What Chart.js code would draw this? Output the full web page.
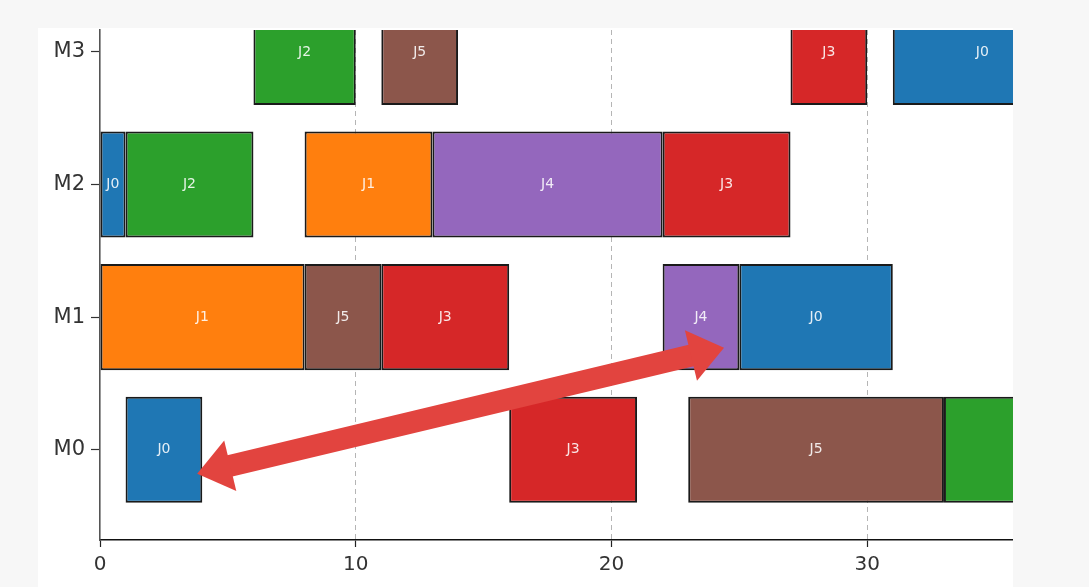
<!DOCTYPE html>
<html>
<head>
<meta charset="utf-8">
<script src="https://cdn.jsdelivr.net/npm/chart.js@4.4.0/dist/chart.umd.min.js"></script>
<style>
  html, body { margin: 0; padding: 0; background: #f7f7f7; }
  #wrap { position: absolute; left: 38px; top: 28px; width: 975px; height: 559px; background: #fff; }
</style>
</head>
<body>
<div id="wrap"><canvas id="gantt"></canvas></div>
<script>
// machines on the y axis, jobs as coloured bars
const machines = ['M0', 'M1', 'M2', 'M3'];
const jobs = ['J0', 'J1', 'J2', 'J3', 'J4', 'J5'];
const jobColors = ['#1f77b4', '#ff7f0e', '#2ca02c', '#d62728', '#9467bd', '#8c564b'];

// each task: [machine index, start, end]
const tasksJ0 = [[0, 1, 4], [1, 25, 31], [2, 0, 1], [3, 31, 38]];
const tasksJ1 = [[1, 0, 8], [2, 8, 13]];
const tasksJ2 = [[2, 1, 6], [3, 6, 10], [0, 33, 40]];
const tasksJ3 = [[1, 11, 16], [0, 16, 21], [2, 22, 27], [3, 27, 30]];
const tasksJ4 = [[2, 13, 22], [1, 22, 25]];
const tasksJ5 = [[1, 8, 11], [3, 11, 14], [0, 23, 33]];
const jobTasks = [tasksJ0, tasksJ1, tasksJ2, tasksJ3, tasksJ4, tasksJ5];

const xTicks = [0, 10, 20, 30];
const xMin = 0, xMax = 35.7;
const yMin = -0.68, yMax = 3.165;

// double headed annotation arrow, in data units [x, y]
const arrowStart = [24.4, 0.77];
const arrowEnd = [3.8, -0.18];

const datasets = jobs.map((job, j) => ({
  label: job,
  data: jobTasks[j].map(t => ({ x: [t[1], t[2]], y: t[0] })),
  backgroundColor: jobColors[j],
  borderColor: '#1a1a1a',
  borderWidth: 2,
  borderSkipped: false,
  grouped: false,
  categoryPercentage: 1,
  barPercentage: 0.8
}));

// job name in the middle of every bar
const barLabels = {
  id: 'barLabels',
  afterDatasetsDraw(chart) {
    const { ctx, chartArea, scales } = chart;
    ctx.save();
    ctx.beginPath();
    ctx.rect(chartArea.left, chartArea.top, chartArea.width, chartArea.height);
    ctx.clip();
    ctx.font = '14px "DejaVu Sans"';
    ctx.fillStyle = 'rgba(255,255,255,0.88)';
    ctx.textAlign = 'center';
    ctx.textBaseline = 'middle';
    chart.data.datasets.forEach(ds => {
      ds.data.forEach(d => {
        const cx = scales.x.getPixelForValue((d.x[0] + d.x[1]) / 2);
        const cy = scales.y.getPixelForValue(d.y);
        ctx.fillText(ds.label, cx, cy);
      });
    });
    ctx.restore();
  }
};

// red arrow drawn over the chart
const arrowPlugin = {
  id: 'arrowPlugin',
  afterDraw(chart) {
    const { ctx, scales } = chart;
    const x1 = scales.x.getPixelForValue(arrowStart[0]), y1 = scales.y.getPixelForValue(arrowStart[1]);
    const x2 = scales.x.getPixelForValue(arrowEnd[0]), y2 = scales.y.getPixelForValue(arrowEnd[1]);
    const ang = Math.atan2(y2 - y1, x2 - x1);
    const headLen = 34, headHalf = 26;
    const ux = Math.cos(ang), uy = Math.sin(ang);
    ctx.save();
    ctx.fillStyle = '#e2443f';
    ctx.strokeStyle = '#e2443f';
    ctx.lineWidth = 22;
    ctx.beginPath();
    ctx.moveTo(x1 + ux * headLen * 0.8, y1 + uy * headLen * 0.8);
    ctx.lineTo(x2 - ux * headLen * 0.8, y2 - uy * headLen * 0.8);
    ctx.stroke();
    const head = (tx, ty, dx, dy) => {
      const bx = tx - dx * headLen, by = ty - dy * headLen;
      ctx.beginPath();
      ctx.moveTo(tx, ty);
      ctx.lineTo(bx - dy * headHalf, by + dx * headHalf);
      ctx.lineTo(bx + dy * headHalf, by - dx * headHalf);
      ctx.closePath();
      ctx.fill();
    };
    head(x2, y2, ux, uy);
    head(x1, y1, -ux, -uy);
    ctx.restore();
  }
};

new Chart(document.getElementById('gantt'), {
  type: 'bar',
  data: { datasets },
  plugins: [barLabels, arrowPlugin],
  options: {
    indexAxis: 'y',
    responsive: true,
    maintainAspectRatio: false,
    animation: false,
    layout: { padding: { top: 2, right: 0, left: 0, bottom: 0 } },
    plugins: {
      legend: { display: false },
      tooltip: { enabled: false }
    },
    scales: {
      x: {
        type: 'linear',
        min: xMin,
        max: xMax,
        z: 1,
        afterBuildTicks: scale => { scale.ticks = xTicks.map(v => ({ value: v })); },
        afterFit: scale => { scale.height = 47; scale.paddingLeft = 0; scale.paddingRight = 0; },
        grid: {
          color: ctx => (ctx.tick && ctx.tick.value === 0 ? 'rgba(0,0,0,0)' : '#b5b5b5'),
          lineWidth: 1,
          tickColor: '#222',
          tickLength: 7,
          tickWidth: 1.2
        },
        border: { color: '#111', width: 1.6, dash: [5, 4] },
        ticks: {
          color: '#333',
          padding: 6,
          font: { family: 'DejaVu Sans', size: 20 }
        }
      },
      y: {
        type: 'linear',
        min: yMin,
        max: yMax,
        offset: false,
        afterBuildTicks: scale => { scale.ticks = machines.map((m, i) => ({ value: i })); },
        afterFit: scale => { scale.width = 62; scale.paddingTop = 0; scale.paddingBottom = 0; },
        grid: {
          offset: false,
          drawOnChartArea: false,
          tickColor: '#333',
          tickLength: 9,
          tickWidth: 1.2
        },
        border: { color: '#555', width: 1.6 },
        ticks: {
          color: '#333',
          padding: 6,
          font: { family: 'DejaVu Sans', size: 21 },
          callback: v => machines[v]
        }
      }
    }
  }
});
</script>
</body>
</html>
